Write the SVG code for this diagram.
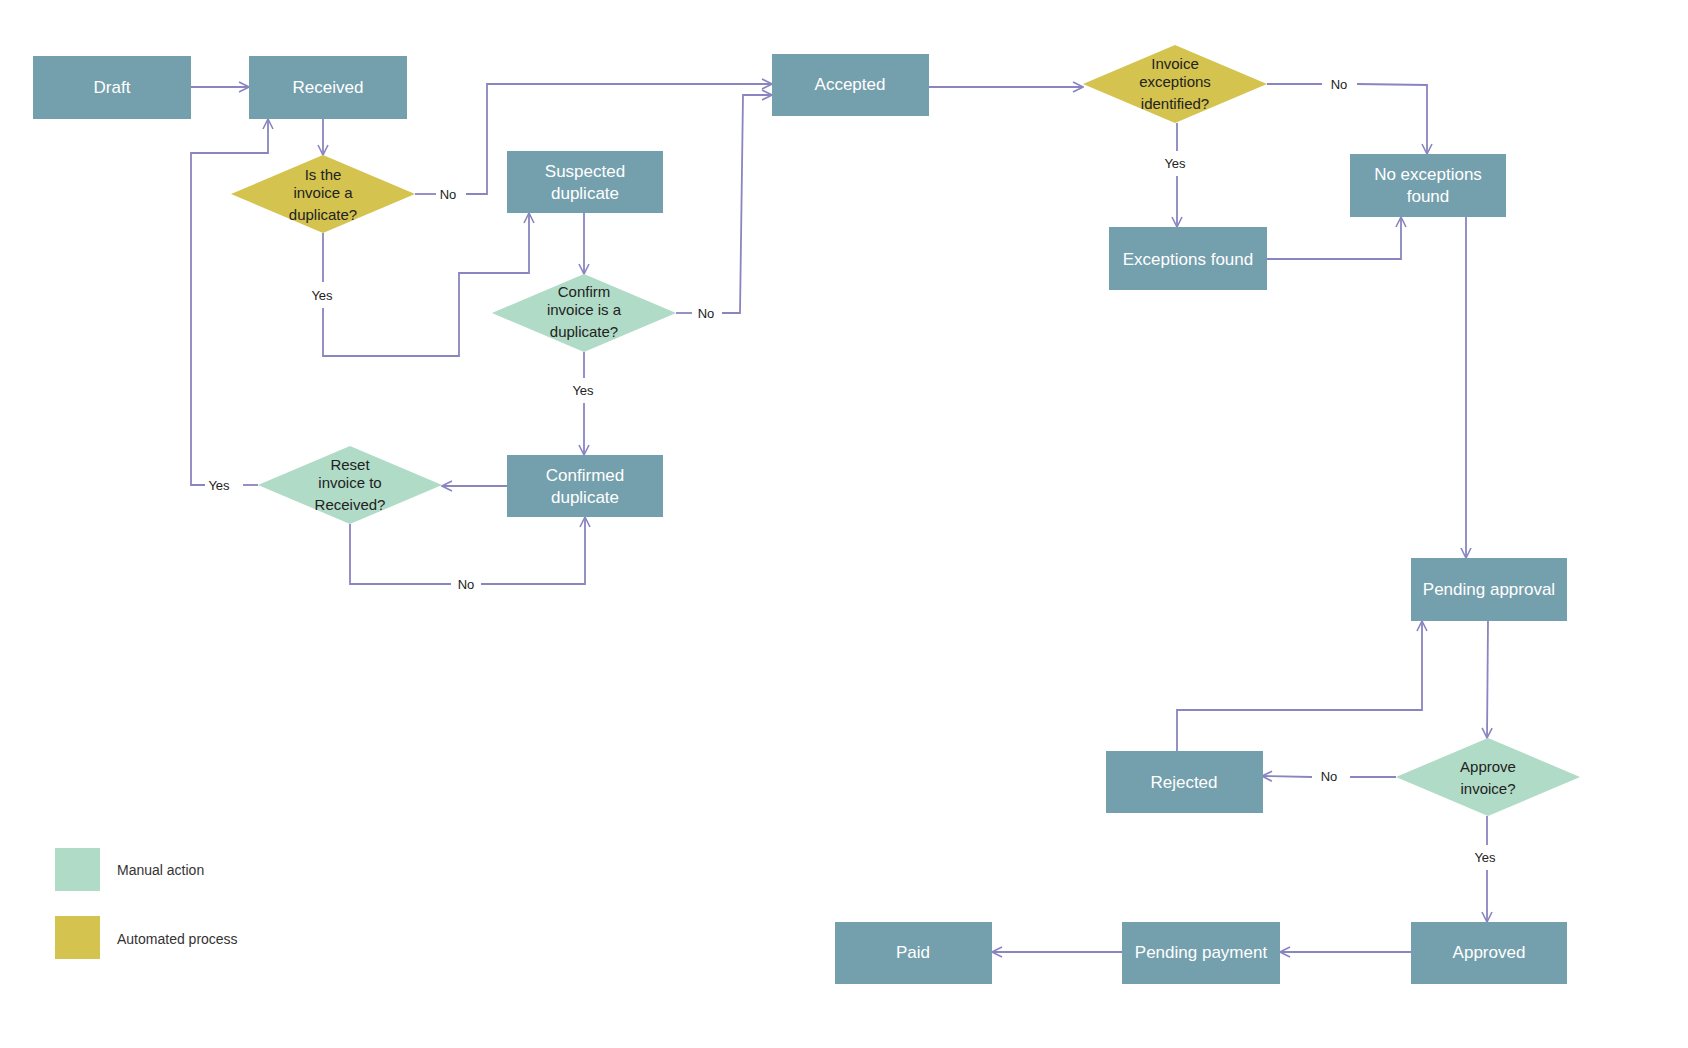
<svg xmlns="http://www.w3.org/2000/svg" width="1688" height="1048" viewBox="0 0 1688 1048">
<defs>
<marker id="ar" viewBox="0 0 12 12" refX="11" refY="6" markerWidth="12" markerHeight="12" markerUnits="userSpaceOnUse" orient="auto">
<path d="M1,1 L11,6 L1,11" fill="none" stroke="#8985c0" stroke-width="1.6"/>
</marker>
<style>
.b{fill:#749fad}
.y{fill:#d4c34e}
.g{fill:#b0dbc7}
.bt{font-family:"Liberation Sans",Arial,sans-serif;font-size:17px;fill:#fff;text-anchor:middle}
.dt{font-family:"Liberation Sans",Arial,sans-serif;font-size:15px;fill:#222;text-anchor:middle}
.lt{font-family:"Liberation Sans",Arial,sans-serif;font-size:13px;fill:#222;text-anchor:middle}
.gt{font-family:"Liberation Sans",Arial,sans-serif;font-size:14px;fill:#333}
.c path{fill:none;stroke:#8985c0;stroke-width:1.8}
.c .a{marker-end:url(#ar)}
</style>
</defs>
<rect width="1688" height="1048" fill="#fff"/>
<g class="c">
<path class="a" d="M191,87 H249"/>
<path class="a" d="M323,119 V155"/>
<path d="M415,194 H436"/>
<path class="a" d="M466,194 H487 V84 H772"/>
<path d="M323,233 V282"/>
<path class="a" d="M323,308 V356 H459 V273 H529 V213"/>
<path class="a" d="M584,213 V274"/>
<path d="M676,313 H692"/>
<path class="a" d="M722,313 H740 L743,95 H772"/>
<path d="M584,352 V378"/>
<path class="a" d="M584,403 V455"/>
<path class="a" d="M507,486 H442"/>
<path d="M258,485 H243"/>
<path class="a" d="M205,485 H191 V153 H268 V119"/>
<path d="M350,524 V584 H451"/>
<path class="a" d="M481,584 H585 V517"/>
<path class="a" d="M929,87 H1083"/>
<path d="M1267,84 H1322"/>
<path class="a" d="M1357,84 L1427,85 V154"/>
<path d="M1177,123 V151"/>
<path class="a" d="M1177,176 V227"/>
<path class="a" d="M1267,259 H1401 V217"/>
<path class="a" d="M1466,217 V558"/>
<path class="a" d="M1488,621 L1487,738"/>
<path d="M1396,777 H1350"/>
<path class="a" d="M1312,777 L1262,776"/>
<path class="a" d="M1177,751 V710 H1422 V621"/>
<path d="M1487,816 V845"/>
<path class="a" d="M1487,870 V922"/>
<path class="a" d="M1411,952 H1280"/>
<path class="a" d="M1122,952 H992"/>
</g>
<g class="c">
<text class="lt" x="448" y="199">No</text>
<text class="lt" x="322" y="300">Yes</text>
<text class="lt" x="706" y="318">No</text>
<text class="lt" x="583" y="395">Yes</text>
<text class="lt" x="219" y="490">Yes</text>
<text class="lt" x="466" y="589">No</text>
<text class="lt" x="1339" y="89">No</text>
<text class="lt" x="1175" y="168">Yes</text>
<text class="lt" x="1329" y="781">No</text>
<text class="lt" x="1485" y="862">Yes</text>
</g>
<g id="draft"><rect class="b" x="33" y="56" width="158" height="63"/><text class="bt" x="112" y="93">Draft</text></g>
<g id="received"><rect class="b" x="249" y="56" width="158" height="63"/><text class="bt" x="328" y="93">Received</text></g>
<g id="accepted"><rect class="b" x="772" y="54" width="157" height="62"/><text class="bt" x="850" y="90">Accepted</text></g>
<g id="suspected"><rect class="b" x="507" y="151" width="156" height="62"/><text class="bt" x="585" y="177">Suspected</text><text class="bt" x="585" y="199">duplicate</text></g>
<g id="confirmed"><rect class="b" x="507" y="455" width="156" height="62"/><text class="bt" x="585" y="481">Confirmed</text><text class="bt" x="585" y="503">duplicate</text></g>
<g id="exceptions"><rect class="b" x="1109" y="227" width="158" height="63"/><text class="bt" x="1188" y="265">Exceptions found</text></g>
<g id="noexceptions"><rect class="b" x="1350" y="154" width="156" height="63"/><text class="bt" x="1428" y="180">No exceptions</text><text class="bt" x="1428" y="202">found</text></g>
<g id="pendingapproval"><rect class="b" x="1411" y="558" width="156" height="63"/><text class="bt" x="1489" y="595">Pending approval</text></g>
<g id="rejected"><rect class="b" x="1106" y="751" width="157" height="62"/><text class="bt" x="1184" y="788">Rejected</text></g>
<g id="approved"><rect class="b" x="1411" y="922" width="156" height="62"/><text class="bt" x="1489" y="958">Approved</text></g>
<g id="pendingpayment"><rect class="b" x="1122" y="922" width="158" height="62"/><text class="bt" x="1201" y="958">Pending payment</text></g>
<g id="paid"><rect class="b" x="835" y="922" width="157" height="62"/><text class="bt" x="913" y="958">Paid</text></g>
<g id="isdup"><path class="y" d="M323,155 L415,194 L323,233 L231,194 Z"/><text class="dt" x="323" y="180">Is the</text><text class="dt" x="323" y="198">invoice a</text><text class="dt" x="323" y="220">duplicate?</text></g>
<g id="confirmdup"><path class="g" d="M584,274 L676,313 L584,352 L492,313 Z"/><text class="dt" x="584" y="297">Confirm</text><text class="dt" x="584" y="315">invoice is a</text><text class="dt" x="584" y="337">duplicate?</text></g>
<g id="reset"><path class="g" d="M350,446 L442,485 L350,524 L258,485 Z"/><text class="dt" x="350" y="470">Reset</text><text class="dt" x="350" y="488">invoice to</text><text class="dt" x="350" y="510">Received?</text></g>
<g id="invexc"><path class="y" d="M1175,45 L1267,84 L1175,123 L1083,84 Z"/><text class="dt" x="1175" y="69">Invoice</text><text class="dt" x="1175" y="87">exceptions</text><text class="dt" x="1175" y="109">identified?</text></g>
<g id="approve"><path class="g" d="M1488,738 L1580,777 L1488,816 L1396,777 Z"/><text class="dt" x="1488" y="772">Approve</text><text class="dt" x="1488" y="794">invoice?</text></g>
<g id="legend">
<rect class="g" x="55" y="848" width="45" height="43"/><text class="gt" x="117" y="875">Manual action</text>
<rect class="y" x="55" y="916" width="45" height="43"/><text class="gt" x="117" y="944">Automated process</text>
</g>
</svg>
